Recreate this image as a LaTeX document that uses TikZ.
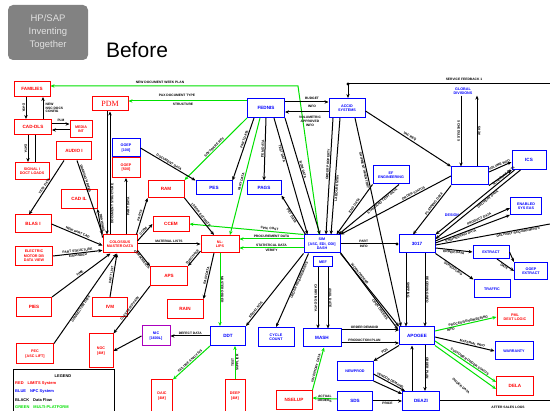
\documentclass[tikz,border=0pt]{standalone}
\usepackage{fontspec}
\setmainfont{Liberation Sans}
\newfontfamily\serf{Liberation Serif}
\usetikzlibrary{arrows.meta}
\definecolor{grn}{RGB}{0,225,0}
\definecolor{rd}{RGB}{255,0,0}
\definecolor{bl}{RGB}{0,0,255}
\definecolor{mg}{RGB}{170,0,190}
\definecolor{ttl}{RGB}{130,130,130}
\newcommand\bxf{\fontsize{4.6}{5.2}\selectfont\bfseries}
\newcommand\sxf{\fontsize{3.7}{4.3}\selectfont\bfseries}
\newcommand\lbf{\fontsize{3.3}{3.8}\selectfont\bfseries}
\newcommand\lgf{\fontsize{4}{4.6}\selectfont\bfseries}
\begin{document}
\begin{tikzpicture}[x=1pt,y=-1pt,
  box/.style={draw,line width=1pt,fill=white,inner sep=0pt,align=center,font=\bxf},
  rbox/.style={box,draw=rd,text=rd},
  bbox/.style={box,draw=bl,text=bl},
  sz/.style 2 args={minimum width=#1pt,minimum height=#2pt},
  dd/.style={line width=1pt},
  df/.style={dd,-{Stealth[length=4pt,width=3.4pt]}},
  gf/.style={df,draw=grn},
  lab/.style={font=\lbf,sloped,inner sep=0.6pt},
  tl/.style={font=\lbf,inner sep=0.5pt},
]
\useasboundingbox (0,0) rectangle (550,411);
\fill[white] (0,0) rectangle (550,411);

% ---- title ----
\node[fill=ttl,rounded corners=5pt,minimum width=80pt,minimum height=55pt,
      text=white!88!black,align=center,font=\fontsize{9.5}{13}\selectfont] (hp) at (48,32.5) {HP/SAP\\Inventing\\Together};
\node[font=\fontsize{21}{24}\selectfont] (before) at (137,50) {Before};

% ---- red systems ----
\node[rbox,sz={36}{15}] (fam) at (32,89) {FAMILIES};
\node[rbox,sz={37}{15}] (cad) at (33,127) {CAD-DLS};
\node[rbox,sz={22}{17},font=\sxf] (media) at (81,129) {MEDIA\\INT};
\node[rbox,sz={36}{14},font=\serf\fontsize{8}{9}\selectfont] (pdm) at (110,104) {PDM};
\node[rbox,sz={35}{18}] (audio) at (74,151) {AUDIO I};
\node[rbox,sz={34}{17},font=\sxf] (signal) at (32,171) {SIGNAL I\\DOCT LOADS};
\node[rbox,sz={36}{19}] (cadil) at (79,199) {CAD IL};
\node[rbox,sz={36}{18}] (blas) at (33,224) {BLAS I};
\node[rbox,sz={37}{19},font=\sxf] (central) at (34,256) {ELECTRIC\\MOTOR DB\\DATA VIEW};
\node[rbox,sz={34}{18},font=\sxf] (col) at (120,244) {COLOSSUS\\MASTER DATA};
\node[rbox,sz={35}{19}] (pies) at (34,307) {PIES};
\node[rbox,sz={35}{19}] (ivm) at (110,307) {IVM};
\node[rbox,sz={36}{17}] (ram) at (166,189) {RAM};
\node[rbox,sz={36}{15}] (ccem) at (171,224) {CCEM};
\node[rbox,sz={38}{17},font=\sxf] (nllips) at (220,244) {NL-\\LIPS};
\node[rbox,sz={37}{19}] (aps) at (169,276) {APS};
\node[rbox,sz={36}{19}] (rain) at (185,309) {RAIN};
\node[rbox,sz={24}{34},font=\sxf] (noc) at (101,351) {NOC\\{[4M]}};
\node[box,draw=mg,text=bl,sz={28}{20},font=\sxf] (nic) at (156,336) {NIC\\{[1600L]}};
\node[rbox,sz={37}{20},font=\sxf] (pec) at (35,354) {PEC\\{[ASC LIFT]}};
\node[rbox,sz={21}{32},font=\sxf] (daic) at (162,396) {DAIC\\{[4M]}};
\node[rbox,sz={20}{32},font=\sxf] (deep) at (235,396) {DEEP\\{[4M]}};
\node[rbox,sz={36}{19}] (nselup) at (294,400) {NSELUP};
\node[rbox,sz={36}{18},font=\sxf] (pml) at (515,317) {PML\\DEXT LOGIC};
\node[rbox,sz={37}{19}] (dela) at (515,386) {DELA};
\node[rbox,sz={28}{20},font=\sxf] (ooepr) at (126,167.5) {OOEP\\{[500]}};

% ---- blue systems ----
\node[bbox,sz={37}{19}] (fednis) at (266,108) {FEDNIS};
\node[bbox,sz={36}{19},font=\sxf] (accid) at (347,108) {ACCID\\SYSTEMS};
\node[bbox,sz={28}{18},font=\sxf] (ooepb) at (126,148) {OOEP\\{[100]}};
\node[bbox,sz={36}{14}] (pes) at (214,188) {PES};
\node[bbox,sz={34}{14}] (pags) at (264,188) {PAGS};
\node[bbox,sz={36}{18},font=\sxf] (sim) at (322,244) {SIM\\{[ASC, EDI, ODI]}\\DASH};
\node[bbox,sz={19}{10},font=\sxf] (mef) at (323,262) {MEF};
\node[bbox,sz={36}{18},font=\sxf] (ef) at (391,175) {EF\\ENGINEERING};
\node[bbox,sz={37}{18}] (bigbox) at (470,176) {};
\node[bbox,sz={34}{19}] (ics) at (529,160) {ICS};
\node[bbox,sz={31}{17},font=\sxf] (enabled) at (526,206) {ENABLED\\SYS EAS};
\node[bbox,sz={36}{18}] (s3017) at (417,244) {3017};
\node[bbox,sz={36}{13},font=\sxf] (extract) at (491,252) {EXTRACT};
\node[bbox,sz={33}{17},font=\sxf] (ooepx) at (531,271) {OOEP\\EXTRACT};
\node[bbox,sz={36}{18},font=\sxf] (traffic) at (492,289) {TRAFFIC};
\node[bbox,sz={35}{19}] (ddt) at (228,336) {DDT};
\node[bbox,sz={36}{19},font=\sxf] (cyc) at (276,337) {CYCLE\\COUNT};
\node[bbox,sz={38}{18}] (mash) at (322,338) {MASH};
\node[bbox,sz={36}{19},font=\sxf] (newprod) at (355,371) {NEWPROD};
\node[bbox,sz={35}{19}] (sds) at (355,401) {SDS};
\node[bbox,sz={35}{18}] (apogee) at (417,336) {APOGEE};
\node[bbox,sz={37}{19}] (deazi) at (421,401) {DEAZI};
\node[bbox,sz={38}{18},font=\sxf] (warranty) at (514,351) {WARRANTY};
\node[text=bl,font=\sxf,align=center,inner sep=1pt] (div) at (463,91) {GLOBAL\\DIVISIONS};
\node[text=bl,font=\sxf] (design) at (452,215) {DESIGN};

% ---- top feeds ----
\coordinate (gTurn) at (298,86);
\draw[gf] ([xshift=-3pt]sim.north) -- (gTurn) -- ([yshift=3pt]fam.east);
\node[tl] (lblA) at (160,82) {NEW DOCUMENT WEEK PLAN};
\draw[gf] ([yshift=7pt]fednis.west) -- ([yshift=3pt]pdm.east);
\node[tl] (lblB) at (177,95) {PAX DOCUMENT TYPE};
\node[tl] (lblC) at (183,104.5) {STRUCTURE};
\draw[df] ([yshift=6pt]fednis.east) -- ([yshift=6pt]accid.west);
\node[tl] (lblD) at (312,98) {BUDGET};
\node[tl] (lblE) at (312,106) {INFO};
\draw[df] ([yshift=-4pt]accid.west) -- ([yshift=-4pt]fednis.east);
\node[tl,align=center] (lblF) at (310,121.5) {VOLUMETRIC\\APPROVED\\INFO};
\coordinate (fbR) at (550,84);
\coordinate (fbK) at (348,84);
\draw[df] (fbR) -- (fbK) -- (fbK |- accid.north);
\fill (fbK) circle (1.6pt);
\node[tl] (lblG) at (464,79) {SERVICE FEEDBACK 1};

% ---- divisions / ICS block ----
\coordinate (dvA) at (461,0);
\coordinate (dvB) at (477,0);
\draw[df] (div.south -| dvA) -- (bigbox.north -| dvA) node[lab,midway,below] {SCHEDULES};
\draw[df] (bigbox.north -| dvB) -- (div.south -| dvB) node[lab,midway,below] {ACKS};
\draw[df] ([yshift=-3pt]accid.east) -- (bigbox.north west) node[lab,midway,above] {VAC REQ};
\draw[df] ([yshift=4pt]bigbox.east) -- ([yshift=-2pt]ics.west) node[lab,midway,above] {VOLUME INFO};
\draw[df] (bigbox.south east) -- (ics.south west);
\draw[df] ([xshift=3pt]ics.south west) -- (s3017.north east) node[lab,pos=0.12,above] {SCHEDULE DATA};
\draw[df] ([xshift=9pt]ics.south west) -- ([yshift=5pt]s3017.east) node[lab,pos=0.4,below] {DELIVERY DATA};
\draw[df] (bigbox.south west) -- ([xshift=-4pt]s3017.north) node[lab,pos=0.4,above] {PLANNING DATA};
\draw[df] (bigbox.west) -- (sim.north east) node[lab,pos=0.33,above] {ORDER STATUS};
\draw[df] (ef.south west) -- ([xshift=-4pt]sim.north east) node[lab,pos=0.45,above] {ENG DATA};
\draw[df] ([xshift=8pt]ef.south) -- (sim.30) node[lab,pos=0.3,below] {STANDARD COST DATA};

% ---- ACCID / FEDNIS downward ----
\draw[df] ([xshift=-14pt]accid.south) -- ([xshift=4pt]sim.north) node[lab,pos=0.4,above] {ORDER PROPERTY};
\draw[df] ([xshift=-7pt]accid.south) -- ([xshift=9pt]sim.north) node[lab,pos=0.6,below] {LABOUR ENTRY};
\draw[df] ([xshift=8pt]accid.south) -- ([xshift=2pt]apogee.north west) node[lab,pos=0.25,below] {SHIPMENT INVENTORY};
\draw[df] (fednis.south east) -- ([xshift=-2pt]sim.north) node[lab,pos=0.45,above] {BOM DATA};
\draw[df] ([xshift=8pt]fednis.south) -- ([xshift=4pt]sim.north west) node[lab,pos=0.3,below] {TEST DATA};
\draw[df] (fednis.south) -- (pags.north) node[lab,midway,above] {ITEM DATA};
\draw[gf] ([xshift=-6pt]fednis.south) -- ([xshift=10pt]nllips.north) node[lab,pos=0.55,above] {PART DATA};
\draw[df] ([xshift=-12pt]fednis.south) -- (pes.north east) node[lab,pos=0.35,above] {PART DATA};
\draw[gf] (fednis.south west) -- (ram.north east) node[lab,midway,above] {SOFTWARE REV};
\draw[df] (ooepb.east) -- (pes.north west) node[lab,midway,above] {DOCUMENT DATA};
\draw[df] (sim.150) -- (pags.south east) node[lab,pos=0.5,below] {PRT DATA};

% ---- SIM to NL-LIPS / CCEM ----
\draw[gf] (sim.north west) -- (ccem.east) node[lab,pos=0.3,above] {CPN, COST};
\draw[gf] ([yshift=5pt]sim.west) -- ([yshift=5pt]nllips.east) node[lab,midway,above] {PROCUREMENT DATA};
\draw[gf] ([yshift=-4pt]sim.west) -- ([yshift=-4pt]nllips.east) node[lab,midway,above] {STATISTICAL DATA} node[lab,midway,below] {VERIFY};

% ---- COLOSSUS ----
\draw[df] ([xshift=-10pt]col.north) -- (pdm.south) node[lab,pos=0.25,below] {DOCUMENT STRUCTURE};
\draw[df] ([xshift=-3pt]pdm.south) -- ([xshift=-13pt]col.north);
\draw[df] ([xshift=6pt]col.north) -- (ooepr.south) node[lab,midway,below] {PART DATA};
\draw[df] ([xshift=3pt]audio.south) -- (col.north west) node[lab,pos=0.25,above] {DRAWING NAMES};
\draw[df] ([xshift=-10pt]audio.south) -- ([xshift=-4pt]blas.north) node[lab,midway,above] {TEST DATA};
\draw[df] (col.160) -- (cadil.south east) node[lab,midway,above] {DRAWINGS};
\draw[df] (blas.east) -- (col.185) node[lab,midway,above] {NEW PART CAD};
\draw[df] (central.east) -- (col.200) node[lab,midway,above] {PART STRUCTURE} node[lab,midway,below] {EXPANDED};
\draw[df] (pies.north east) -- (col.225) node[lab,midway,above] {TIME};
\draw[df] (pec.north east) -- (col.250) node[lab,pos=0.4,below] {CONNECTOR DATA};
\draw[df] (ivm.north) -- ([xshift=-3pt]col.south) node[lab,midway,above] {PART LIST};
\draw[df] (col.30) -- (ram.south west) node[lab,midway,above] {PARTS};
\draw[df] (col.10) -- (ccem.west) node[lab,midway,above] {CCEM};
\draw[df] (col.east) -- (nllips.west) node[lab,midway,above] {MATERIAL LISTS};
\draw[df] (col.-20) -- (aps.north west) node[lab,midway,below] {COMPONENTS};

% ---- NL-LIPS ----
\draw[df] (ram.south east) -- ([xshift=-6pt]nllips.north) node[lab,midway,above] {LABOR ESTIMATE};
\draw[df] (nllips.200) -- (aps.north east) node[lab,midway,above] {PURCHASE};
\draw[df] ([xshift=-6pt]nllips.south) -- (rain.north east) node[lab,midway,above] {RAIN DATA};
\draw[gf] (nllips.south) -- (nllips.south |- ddt.north) node[lab,midway,above] {MASTER ORDER};
\draw[df] (aps.south west) -- (noc.north east) node[lab,midway,above] {CLASSIFIED PART};
\draw[df] (nic.west) -- (noc.east);

% ---- DDT / MASH ----
\draw[df] (ddt.west) -- (nic.east) node[lab,midway,above] {DEFECT DATA};
\draw[gf] (ddt.south west) -- (daic.north east) node[lab,midway,above] {FAILURE ANALYSIS};
\draw[gf] (deep.north) -- (deep.north |- ddt.south) node[lab,midway,above] {TEST} node[lab,midway,below] {SUPPLIER};
\draw[df] (sim.south west) -- (ddt.north east) node[lab,pos=0.8,above] {SERIAL NOS};
\draw[df] ([xshift=5pt]sim.south west) -- (cyc.north) node[lab,pos=0.35,below] {ORDER REQUIREMENTS};
\coordinate (mA) at (318,0);
\coordinate (mB) at (328,0);
\draw[df] (mef.south -| mA) -- (mash.north -| mA) node[lab,midway,below] {CARRYING DATA};
\draw[df] (mef.south -| mB) -- (mash.north -| mB) node[lab,midway,above] {AVAIL DATE};
\coordinate (yA) at (0,330);
\coordinate (yB) at (0,343);
\draw[df] (mash.east |- yA) -- (apogee.west |- yA) node[lab,pos=0.4,above] {ORDER DEMAND};
\draw[df] (mash.east |- yB) -- (apogee.west |- yB) node[lab,pos=0.4,above] {PRODUCTION PLAN};
\draw[gf] (nselup.north east) -- ([xshift=2pt]mash.south) node[lab,midway,above] {INVENTORY DATA};
\draw[gf] ([yshift=2pt]sds.west) -- ([yshift=2pt]nselup.east) node[lab,midway,above] {ACTUAL} node[lab,midway,below] {ORDERS};

% ---- SIM / 3017 / APOGEE ----
\draw[df] (sim.south east) -- (apogee.north west) node[lab,pos=0.3,above] {WORK ORDERS};
\draw[df] (sim.-25) -- ([xshift=-1pt,yshift=-3pt]apogee.north west) node[lab,pos=0.72,below] {OPEN ORDERS};
\draw[dd,-{Circle[length=3pt]}] (sim.east) -- (s3017.west) node[lab,pos=0.4,above] {PART} node[lab,pos=0.4,below] {INFO};
\coordinate (xA) at (406,0);
\coordinate (xB) at (425,0);
\coordinate (xC) at (412,0);
\draw[df] (s3017.south -| xA) -- (apogee.north -| xA) node[lab,midway,above] {SHIPPING};
\draw[df] (s3017.south -| xB) -- (apogee.north -| xB) node[lab,midway,above] {RECEIVING INFO};
\draw[df] (apogee.south -| xB) -- (deazi.north -| xB) node[lab,midway,above] {ORDER PLAN};
\draw[df] (deazi.north -| xC) -- (apogee.south -| xC);
\draw[df] ([yshift=3pt]s3017.east) -- ([yshift=-2pt]enabled.west) node[lab,pos=0.6,above] {PRODUCT DATA};
\draw[df] ([yshift=1pt]s3017.east) -- (enabled.south west) node[lab,pos=0.33,below] {ENGINEERING DATA};
\coordinate (reA) at (550,224);
\draw[dd] ([yshift=-1pt]s3017.east) -- (reA) node[lab,pos=0.72,below] {DELIVERY REQUIREMENTS};
\draw[df] ([yshift=-4pt]s3017.east) -- (extract.west) node[lab,midway,below] {ORDER DATA};
\draw[df] (s3017.south east) -- (traffic.north west) node[lab,midway,below] {SCHEDULING};
\draw[df] (extract.east) -- (ooepx.north west);
\draw[df] ([xshift=6pt]extract.south) -- (ooepx.west) node[lab,midway,below] {DATA};

% ---- APOGEE outputs ----
\draw[df] (apogee.south west) -- (newprod.north east) node[lab,midway,above] {PQS};
\draw[df] ([yshift=-3pt]newprod.east) -- ([xshift=3pt]deazi.north west) node[lab,midway,above] {VENDOR DEMAND};
\draw[df] (newprod.south east) -- ([yshift=-3pt]deazi.north west);
\draw[df] (sds.east) -- (deazi.west) node[lab,midway,below] {PRICE};
\coordinate (asR) at (550,401);
\draw[dd] (deazi.east) -- (asR);
\node[tl] (lblH) at (508,407) {AFTER SALES LOGS};
\draw[gf] ([yshift=5pt]apogee.east) -- (pml.west) node[lab,pos=0.55,above] {PROCESS/ENGINEERING} node[lab,pos=0.25,below] {INFO};
\draw[df] ([yshift=-1pt]apogee.east) -- (warranty.west) node[lab,pos=0.62,above] {MATERIAL INFO};
\draw[gf] ([yshift=-5pt]apogee.east) -- ([yshift=4pt]dela.west) node[lab,pos=0.55,above] {CUSTOMER ORDER STATUS};
\draw[gf] (apogee.south east) -- ([yshift=-3pt]dela.west);
\node[tl,rotate=-40] (lblK) at (461,386) {ORDER DATA};

% ---- left column ----
\coordinate (lA) at (26,0);
\coordinate (lB) at (43,0);
\draw[df] (fam.south -| lA) -- (cad.north -| lA) node[lab,midway,below] {DATA};
\draw[df] (cad.north -| lB) -- (fam.south -| lB);
\node[tl,align=left,anchor=west] (lblI) at (45,108) {NEW\\NSC DOCS\\CONFIG};
\coordinate (yC) at (0,124);
\coordinate (yD) at (0,130);
\draw[df] (cad.east |- yC) -- (media.west |- yC);
\draw[df] (media.west |- yD) -- (cad.east |- yD);
\node[tl] (lblJ) at (61,120) {PLM};
\coordinate (lC) at (28,0);
\coordinate (lD) at (35,0);
\draw[df] (cad.south -| lC) -- (signal.north -| lC) node[lab,midway,below] {DATA};
\draw[dd] (cad.south -| lD) -- (signal.north -| lD);

% ---- legend ----
\node[draw,line width=0.8pt,minimum width=101pt,minimum height=42pt,inner sep=0pt,anchor=north west] (leg) at (13,369) {};
\node[font=\lgf,anchor=north] (lgT) at (63,371) {LEGEND};
\node[font=\lgf,text=rd,anchor=west,inner sep=0pt] (lg1) at (15,384) {RED\quad LIMITS System};
\node[font=\lgf,text=bl,anchor=west,inner sep=0pt] (lg2) at (15,392) {BLUE\quad NPC System};
\node[font=\lgf,anchor=west,inner sep=0pt] (lg3) at (15,400) {BLACK\quad Data Flow};
\node[font=\lgf,text=grn,anchor=west,inner sep=0pt] (lg4) at (15,407.5) {GREEN\quad MULTI-PLATFORM};
\end{tikzpicture}
\end{document}
